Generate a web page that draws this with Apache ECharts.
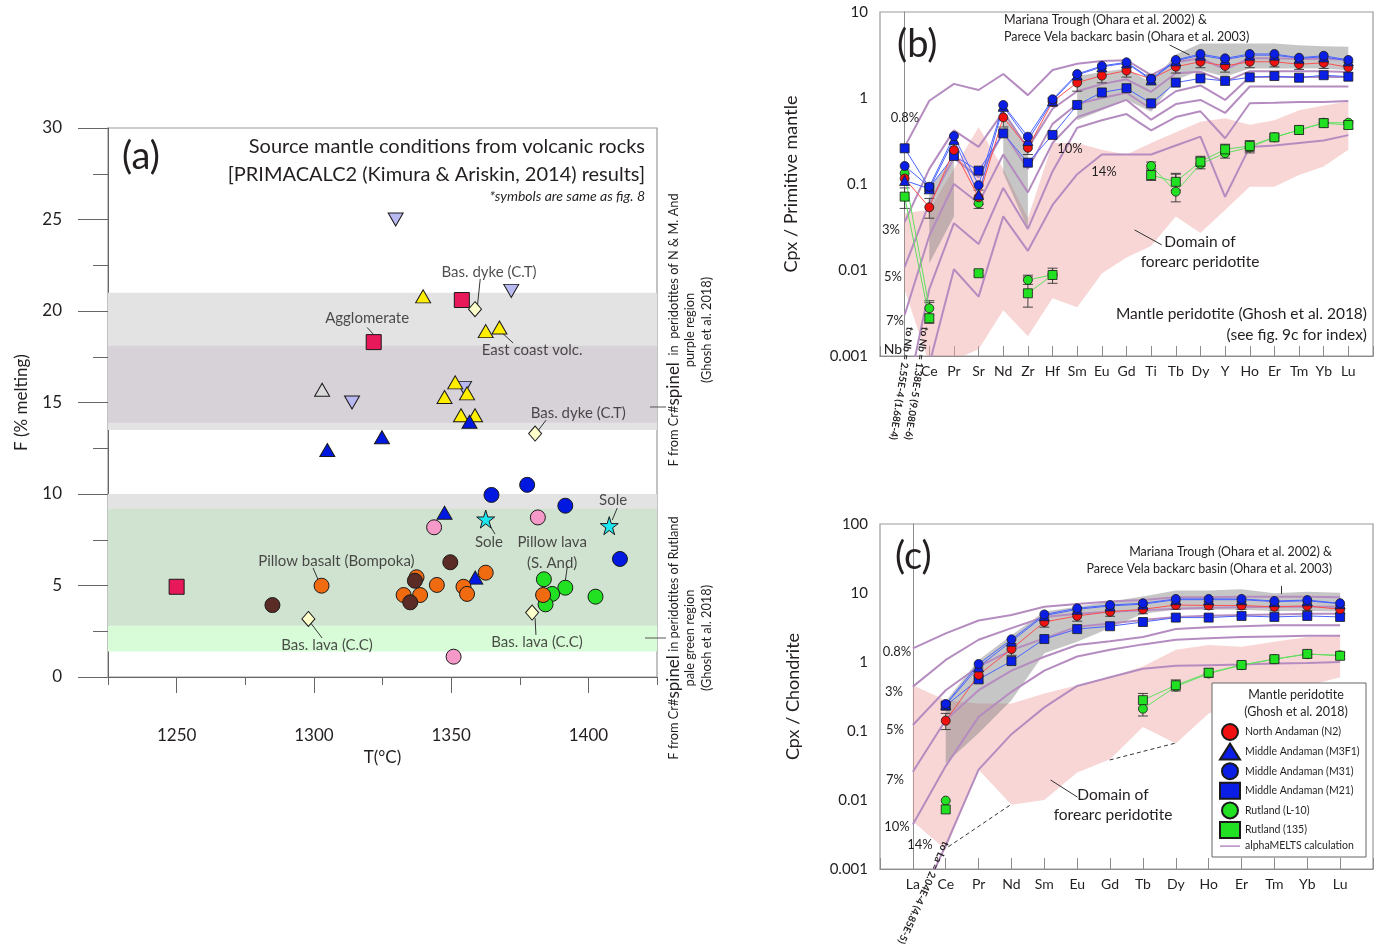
<!DOCTYPE html>
<html>
<head>
<meta charset="utf-8">
<script src="https://cdn.jsdelivr.net/npm/echarts@6/dist/echarts.min.js"></script>
<style>
	html, body { margin: 0; background: #fff; }
	#chart { width: 1380px; height: 945px; }
</style>
</head>
<body>
<div id="chart"></div>
<script>
var FONT = 'Lato, "Noto Sans", sans-serif';
var INK = '#231f20';

// ---------- (a) source mantle conditions ----------
var aXMajor = [1250, 1300, 1350, 1400];
var aBandRange = [[13.5, 21], [13.9, 18.1], [2.8, 10], [2.8, 9.2], [1.4, 2.8]];
var aYellowTri = [[1339.8, 20.8], [1362.6, 18.9], [1367.6, 19.1], [1351.5, 16.1], [1355.8, 15.5], [1347.6, 15.3], [1353.6, 14.3], [1358.7, 14.3]];
var aLavenderTri = [[1329.8, 25.0], [1371.9, 21.1], [1313.9, 15.0], [1354.7, 15.8]];
var aGrayTri = [[1303, 15.7]];
var aCrimsonSq = [[1353.9, 20.6], [1321.8, 18.3], [1250, 4.93]];
var aCreamDia = [[1358.7, 20.1], [1380.6, 13.3], [1298, 3.17], [1379.5, 3.52]];
var aBlueTri = [[1356.7, 13.95], [1324.8, 13.1], [1304.9, 12.4], [1347.6, 8.98], [1358.8, 5.43]];
var aBlueCirc = [[1377.7, 10.5], [1364.7, 9.95], [1391.6, 9.36], [1411.5, 6.45]];
var aCyanStar = [[1362.6, 8.63], [1407.6, 8.27]];
var aPinkCirc = [[1381.6, 8.72], [1343.8, 8.18], [1350.9, 1.11]];
var aGreenCirc = [[1383.8, 5.34], [1391.6, 4.88], [1386.8, 4.54], [1384.4, 3.97], [1402.6, 4.39]];
var aOrangeCirc = [[1362.6, 5.7], [1337.4, 5.45], [1344.8, 5.03], [1354.5, 4.93], [1355.8, 4.54], [1383.5, 4.48], [1302.8, 4.99], [1332.7, 4.48], [1338.7, 4.48]];
var aBrownCirc = [[1349.7, 6.27], [1336.8, 5.26], [1284.9, 3.93], [1335.1, 4.08]];
var aNotes = [
	['Bas. dyke (C.T)', 1363.8, 22.1], ['Agglomerate', 1319.4, 19.6], ['East coast volc.', 1379.5, 17.87],
	['Bas. dyke (C.T)', 1396.3, 14.43], ['Sole', 1409, 9.67], ['Sole', 1363.8, 7.38],
	['Pillow lava\n(S. And)', 1386.8, 6.8], ['Pillow basalt (Bompoka)', 1308.2, 6.34],
	['Bas. lava (C.C)', 1304.8, 1.75], ['Bas. lava (C.C)', 1381.3, 1.91]
];
var aLeaders = [
	[[1360.6, 21.75], [1359.5, 20.16]], [[1319.4, 19.1], [1321.6, 18.74]], [[1372.6, 18.25], [1368.6, 18.8]],
	[[1384.6, 14.04], [1381.3, 13.39]], [[1410.5, 9.23], [1408.7, 8.58]], [[1366, 7.81], [1363.5, 8.42]],
	[[1392.3, 6.01], [1391.5, 5.14]], [[1299.7, 5.96], [1301.9, 5.19]], [[1303, 2.13], [1298.6, 3.0]],
	[[1380.9, 2.3], [1380.6, 3.22]]
];

// ---------- (b) Cpx / primitive mantle ----------
var elemB = ['Nb', 'Ce', 'Pr', 'Sr', 'Nd', 'Zr', 'Hf', 'Sm', 'Eu', 'Gd', 'Ti', 'Tb', 'Dy', 'Y', 'Ho', 'Er', 'Tm', 'Yb', 'Lu'];
var bN2 = [0.116, 0.0536, 0.248, 0.07, 0.595, 0.264, 0.905, 1.51, 1.82, 2.08, 1.67, 2.31, 2.64, 2.36, 2.64, 2.64, 2.47, 2.56, 2.27];
var bM3F1 = [0.11, 0.088, 0.33, 0.075, 0.8, 0.32, 0.93, 1.85, 2.3, 2.55, 1.62, 2.7, 3.15, 2.8, 3.15, 3.15, 2.9, 3.0, 2.7];
var bM31 = [0.162, 0.093, 0.361, 0.097, 0.83, 0.355, 0.966, 1.9, 2.36, 2.6, 1.67, 2.77, 3.25, 2.89, 3.25, 3.25, 2.94, 3.1, 2.77];
var bM21 = [0.26, 0.0906, 0.212, 0.143, 0.388, 0.177, 0.372, 0.83, 1.16, 1.3, 0.867, 1.51, 1.69, 1.58, 1.74, 1.8, 1.72, 1.84, 1.77];
var bL10 = [0.133, 0.00359, null, 0.0596, null, 0.00766, 0.0088, null, null, null, 0.162, 0.0815, 0.171, 0.228, 0.267, 0.349, 0.425, 0.516, 0.516];
var b135 = [0.0713, 0.00275, null, 0.00917, null, 0.00536, 0.00875, null, null, null, 0.127, 0.106, 0.182, 0.253, 0.277, 0.349, 0.425, 0.51, 0.485];
// error bars [low, high]
var bN2Err = [null, [0.04, 0.068], [0.2, 0.3], [0.058, 0.085], [0.46, 0.72], [0.22, 0.31], [0.8, 1.0], [1.2, 1.85], [1.5, 2.2], [1.75, 2.45], [1.5, 1.85], [1.95, 2.7], [2.25, 3.05], [2.0, 2.75], [2.25, 3.05], [2.3, 3.0], [2.15, 2.8], [2.2, 2.9], [1.95, 2.6]];
var b135Err = [[0.052, 0.09], [0.0024, 0.0042], null, [0.0085, 0.0099], null, [0.0037, 0.0083], [0.007, 0.0105], null, null, null, [0.11, 0.15], [0.085, 0.13], [0.16, 0.21], [0.22, 0.29], [0.24, 0.32], [0.32, 0.38], [0.38, 0.47], [0.46, 0.57], [0.44, 0.54]];
var bL10Err = [null, [0.003, 0.0044], null, [0.052, 0.068], null, [0.0068, 0.0087], null, null, null, null, [0.145, 0.18], [0.062, 0.133], [0.15, 0.2], [0.2, 0.26], [0.23, 0.3], null, null, null, null];
var bMelts = [
	[0.27, 0.93, 1.46, 1.24, 1.9, 1.08, 2.12, 2.5, 2.7, 2.75, 1.85, 2.6, 2.9, 2.15, 2.9, 2.9, 2.85, 2.85, 2.8],
	[0.036, 0.15, 0.42, 0.27, 0.69, 0.26, 0.75, 1.2, 1.45, 1.65, 1.18, 1.94, 2.02, 1.55, 2.05, 2.05, 2.05, 2.05, 2.0],
	[0.0108, 0.06, 0.2, 0.12, 0.4, 0.15, 0.5, 0.85, 1.0, 1.15, 0.75, 1.2, 1.4, 0.95, 1.75, 1.75, 1.75, 1.75, 1.75],
	[0.003, 0.025, 0.1, 0.06, 0.22, 0.08, 0.3, 0.6, 0.75, 0.95, 0.56, 0.85, 0.95, 0.67, 1.36, 1.36, 1.36, 1.36, 1.36],
	[0.000255, 0.006, 0.035, 0.02, 0.09, 0.03, 0.14, 0.45, 0.55, 0.65, 0.42, 0.6, 0.7, 0.34, 0.87, 0.88, 0.9, 0.9, 0.92],
	[0.0000138, 0.0008, 0.0102, 0.0049, 0.042, 0.0167, 0.057, 0.13, 0.22, 0.22, 0.22, 0.28, 0.355, 0.071, 0.27, 0.28, 0.3, 0.32, 0.37]
];
var bForeUp = [0.046, 0.05, 0.15, 0.46, 0.15, 0.04, 0.3, 0.3, 0.25, 0.22, 0.3, 0.4, 0.53, 0.58, 0.49, 0.55, 0.72, 0.82, 0.91];
var bForeLo = [0.0059, 0.0008, 0.0009, 0.0012, 0.0034, 0.0017, 0.0047, 0.0037, 0.0091, 0.014, 0.019, 0.042, 0.027, 0.05, 0.093, 0.093, 0.127, 0.16, 0.25];
var bGrayUp = [null, 0.09, 0.207, null, 0.73, 0.27, null, 1.8, 2.0, 2.2, 1.5, 3.2, 4.3, 4.3, 4.3, 4.3, 4.1, 4.0, 3.95];
var bGrayLo = [null, 0.012, 0.042, null, 0.134, 0.03, null, 0.55, 0.72, 0.95, 0.69, 1.62, 2.1, 1.77, 2.2, 2.2, 2.2, 2.2, 2.1];
var bLeaders = [[[10.75, 4.13], [11.56, 3.16]], [[9.33, 0.0292], [10.43, 0.0196]]];

// ---------- (c) Cpx / chondrite ----------
var elemC = ['La', 'Ce', 'Pr', 'Nd', 'Sm', 'Eu', 'Gd', 'Tb', 'Dy', 'Ho', 'Er', 'Tm', 'Yb', 'Lu'];
var cN2 = [null, 0.141, 0.65, 1.54, 3.8, 4.65, 5.35, 5.8, 6.7, 6.6, 6.6, 6.3, 6.5, 5.8];
var cM3F1 = [null, 0.24, 0.85, 2.0, 4.7, 5.8, 6.5, 6.9, 8.0, 8.0, 8.0, 7.5, 7.7, 7.0];
var cM31 = [null, 0.246, 0.935, 2.13, 4.9, 6.0, 6.7, 7.1, 8.2, 8.2, 8.2, 7.65, 7.9, 7.1];
var cM21 = [null, 0.233, 0.56, 1.03, 2.15, 3.0, 3.3, 3.8, 4.4, 4.4, 4.65, 4.5, 4.65, 4.5];
var cL10 = [null, 0.0098, null, null, null, null, null, 0.21, 0.44, 0.68, 0.9, 1.1, 1.3, 1.25];
var c135 = [null, 0.0073, null, null, null, null, null, 0.28, 0.46, 0.7, 0.905, 1.1, 1.31, 1.23];
var cN2Err = [null, [0.105, 0.18], [0.5, 0.82], [1.25, 1.85], [3.2, 4.4], [3.9, 5.5], [4.6, 6.1], [5.0, 6.7], [5.8, 7.6], [5.8, 7.5], [5.8, 7.5], [5.5, 7.2], [5.6, 7.4], [5.0, 6.6]];
var c135Err = [null, null, null, null, null, null, null, [0.165, 0.35], [0.38, 0.55], [0.6, 0.8], [0.82, 1.0], [0.98, 1.22], [1.15, 1.45], [1.1, 1.38]];
var cMelts = [
	[1.58, 2.6, 4.0, 4.8, 6.3, 6.9, 7.5, 7.9, 8.7, 8.7, 8.8, 8.8, 8.8, 8.7],
	[0.44, 1.07, 2.1, 3.1, 4.5, 5.0, 5.35, 5.6, 5.9, 6.1, 6.2, 6.3, 6.3, 6.3],
	[0.122, 0.39, 0.86, 1.49, 2.2, 3.25, 3.6, 4.06, 4.5, 4.7, 4.8, 4.9, 5.0, 5.0],
	[0.0257, 0.144, 0.39, 0.75, 1.19, 1.76, 2.0, 2.3, 3.0, 3.2, 3.3, 3.4, 3.4, 3.4],
	[0.0044, 0.031, 0.16, 0.37, 0.75, 1.2, 1.5, 1.8, 2.1, 2.2, 2.3, 2.35, 2.4, 2.4],
	[0.000204, 0.0022, 0.0275, 0.09, 0.22, 0.45, 0.6, 0.8, 0.88, 0.9, 0.92, 0.95, 0.97, 1.0]
];
var cForeUp = [0.46, 0.28, 0.25, 0.25, 0.35, 0.46, 0.61, 0.86, 1.5, 1.76, 1.66, 1.97, 2.3, 2.4];
var cForeLo = [0.0049, 0.0019, 0.0275, 0.0085, 0.01, 0.025, 0.039, 0.114, 0.066, 0.18, 0.25, 0.35, 0.45, 0.6];
var cGrayUp = [null, 0.27, 1.07, 2.45, 5.4, 6.3, 7.5, 8.9, 10.9, 10.9, 11.3, 9.9, 10.4, 10.1];
var cGrayLo = [null, 0.034, 0.093, 0.28, 1.34, 1.97, 3.1, 5.0, 5.7, 5.7, 5.7, 5.5, 5.5, 5.4];
var cLeaders = [[[11.2, 12.6], [11.2, 9.7]], [[4.19, 0.0195], [5.01, 0.011]]];
var cDashed = [[[1.08, 0.0021], [2.97, 0.0085]], [[5.99, 0.038], [8.0, 0.067]]];

// ---------- helpers ----------
function seq(vals) {
	return vals.map(function(v, i) { return [i, v == null ? '-' : v]; });
}

function elemFmt(list, skip) {
	return function(v) {
		var i = Math.round(v);
		return (Math.abs(i - v) < 1e-6 && i >= 0 && i < list.length && i !== skip) ? list[i] : '';
	};
}

function polySeries(ai, upper, lower, color, z) {
	var runs = [], cur = null;
	upper.forEach(function(v, i) {
		if (v != null && lower[i] != null) {
			if (!cur) { cur = []; runs.push(cur); }
			cur.push(i);
		} else {
			cur = null;
		}
	});
	var polys = runs.map(function(run) {
		return run.map(function(i) { return [i, upper[i]]; })
			.concat(run.slice().reverse().map(function(i) { return [i, lower[i]]; }));
	});
	var data = [];
	polys.forEach(function(p) { p.forEach(function(pt) { data.push(pt); }); });
	return {
		type: 'custom', xAxisIndex: ai, yAxisIndex: ai, clip: true, silent: true, z: z, data: data,
		renderItem: function(params, api) {
			if (params.dataIndex !== 0) return null;
			return {
				type: 'group',
				children: polys.map(function(p) {
					return { type: 'polygon', shape: { points: p.map(function(pt) { return api.coord(pt); }) }, style: { fill: color } };
				})
			};
		}
	};
}

// vertical error bars with caps
function errSeries(ai, errs) {
	var data = [];
	errs.forEach(function(e, i) { if (e) data.push([i, e[0], e[1]]); });
	return {
		type: 'custom', xAxisIndex: ai, yAxisIndex: ai, clip: true, silent: true, z: 5, data: data,
		encode: { x: 0, y: [1, 2] },
		renderItem: function(params, api) {
			var lo = api.coord([api.value(0), api.value(1)]);
			var hi = api.coord([api.value(0), api.value(2)]);
			var st = { stroke: '#333', lineWidth: 0.9 };
			return {
				type: 'group',
				children: [
					{ type: 'line', shape: { x1: lo[0], y1: lo[1], x2: hi[0], y2: hi[1] }, style: st },
					{ type: 'line', shape: { x1: lo[0] - 5, y1: lo[1], x2: lo[0] + 5, y2: lo[1] }, style: st },
					{ type: 'line', shape: { x1: hi[0] - 5, y1: hi[1], x2: hi[0] + 5, y2: hi[1] }, style: st }
				]
			};
		}
	};
}

function sample(ai, name, vals, symbol, fill, lineColor, rotate) {
	return {
		type: 'line', name: name, xAxisIndex: ai, yAxisIndex: ai, data: seq(vals), z: 6,
		symbol: symbol, symbolSize: symbol === 'triangle' ? 10 : 9, symbolRotate: rotate || 0,
		showAllSymbol: true, clip: true,
		itemStyle: { color: fill, borderColor: '#1a1a1a', borderWidth: 0.8 },
		lineStyle: { color: lineColor, width: 1 }
	};
}

function melts(ai, vals) {
	return {
		type: 'line', name: 'alphaMELTS calculation', xAxisIndex: ai, yAxisIndex: ai, data: seq(vals),
		symbol: 'none', z: 3, clip: true, silent: true,
		itemStyle: { color: '#b58cc0' },
		lineStyle: { color: '#b58cc0', width: 2 }
	};
}

function leaderSeries(ai, pairs, dashed) {
	return {
		type: 'line', xAxisIndex: ai, yAxisIndex: ai, data: [], z: 4, silent: true,
		markLine: {
			silent: true, symbol: ['none', 'none'], label: { show: false }, animation: false,
			lineStyle: { color: '#333', width: 1, type: dashed ? [4, 3] : 'solid' },
			data: pairs.map(function(p) { return [{ coord: p[0] }, { coord: p[1] }]; })
		}
	};
}

function aPoints(data, symbol, size, fill, rotate) {
	return {
		type: 'scatter', xAxisIndex: 0, yAxisIndex: 0, data: data, z: 5,
		symbol: symbol, symbolSize: size, symbolRotate: rotate || 0,
		itemStyle: { color: fill, borderColor: '#1a1a1a', borderWidth: 1, opacity: 1 }
	};
}

function txt(x, y, text, size, extra) {
	var st = { text: text, fontSize: size, fontFamily: FONT, fill: INK, align: 'center', verticalAlign: 'middle' };
	for (var k in extra) st[k] = extra[k];
	return { type: 'text', x: x, y: y, z: 61, silent: true, style: st };
}

var STAR = 'path://M50,0 L61,35 L98,35 L68,57 L79,91 L50,70 L21,91 L32,57 L2,35 L39,35 Z';
var axisGray = '#8c8c8c';

// ---------- series ----------
var series = [];

series.push({
	type: 'line', xAxisIndex: 0, yAxisIndex: 0, data: [], z: 1, silent: true,
	markArea: {
		silent: true,
		data: aBandRange.map(function(r, k) {
			var cols = ['#e3e3e3', '#d7d2d8', '#e3e3e3', '#d0e3d0', '#d8fcd8'];
			return [{ yAxis: r[0], itemStyle: { color: cols[k] } }, { yAxis: r[1] }];
		})
	}
});
series.push(aPoints(aGrayTri, 'triangle', [15, 13], '#d9d9d9'));
series.push(aPoints(aLavenderTri, 'triangle', [15, 13], '#b9b9f2', 180));
series.push(aPoints(aYellowTri, 'triangle', [15, 13], '#ffee00'));
series.push(aPoints(aCrimsonSq, 'rect', 15, '#e8195a'));
series.push(aPoints(aCreamDia, 'diamond', [13, 15], '#ffffcc'));
series.push(aPoints(aBlueTri, 'triangle', [15, 13], '#0018e0'));
series.push(aPoints(aBlueCirc, 'circle', 15, '#0018e0'));
series.push(aPoints(aCyanStar, STAR, 18, '#1ee6ee'));
series.push(aPoints(aPinkCirc, 'circle', 15, '#f59ac8'));
series.push(aPoints(aGreenCirc, 'circle', 15, '#22e022'));
series.push(aPoints(aOrangeCirc, 'circle', 15, '#f06a10'));
series.push(aPoints(aBrownCirc, 'circle', 15, '#5b2c25'));
series.push({
	type: 'scatter', xAxisIndex: 0, yAxisIndex: 0, z: 6, silent: true,
	symbol: 'circle', symbolSize: 1, itemStyle: { color: 'rgba(0,0,0,0)' },
	data: aNotes.map(function(n) {
		return { value: [n[1], n[2]], label: { show: true, position: 'inside', formatter: n[0], fontSize: 15, lineHeight: 21, fontFamily: FONT, color: INK } };
	}),
	markLine: {
		silent: true, symbol: ['none', 'none'], label: { show: false },
		lineStyle: { color: '#333', width: 1, type: 'solid' },
		data: aLeaders.map(function(p) { return [{ coord: p[0] }, { coord: p[1] }]; })
	}
});

// (b)
series.push(polySeries(1, bForeUp, bForeLo, 'rgba(240,165,165,0.45)', 1));
series.push(polySeries(1, bGrayUp, bGrayLo, 'rgba(120,120,120,0.42)', 2));
bMelts.forEach(function(v) { series.push(melts(1, v)); });
series.push(leaderSeries(1, bLeaders, false));
series.push(errSeries(1, bN2Err));
series.push(errSeries(1, b135Err));
series.push(errSeries(1, bL10Err));
series.push(sample(1, 'Rutland (L-10)', bL10, 'circle', '#22e022', '#5fe05f'));
series.push(sample(1, 'Rutland (135)', b135, 'rect', '#22e022', '#5fe05f'));
series.push(sample(1, 'Middle Andaman (M21)', bM21, 'rect', '#0a1ee6', '#4a64ff'));
series.push(sample(1, 'North Andaman (N2)', bN2, 'circle', '#f01010', '#ff5050'));
series.push(sample(1, 'Middle Andaman (M3F1)', bM3F1, 'triangle', '#0a1ee6', '#4a64ff'));
series.push(sample(1, 'Middle Andaman (M31)', bM31, 'circle', '#0a1ee6', '#4a64ff'));

// (c)
series.push(polySeries(2, cForeUp, cForeLo, 'rgba(240,165,165,0.45)', 1));
series.push(polySeries(2, cGrayUp, cGrayLo, 'rgba(120,120,120,0.42)', 2));
cMelts.forEach(function(v) { series.push(melts(2, v)); });
series.push(leaderSeries(2, cLeaders, false));
series.push(leaderSeries(2, cDashed, true));
series.push(errSeries(2, cN2Err));
series.push(errSeries(2, c135Err));
series.push(sample(2, 'Rutland (L-10)', cL10, 'circle', '#22e022', '#5fe05f'));
series.push(sample(2, 'Rutland (135)', c135, 'rect', '#22e022', '#5fe05f'));
series.push(sample(2, 'Middle Andaman (M21)', cM21, 'rect', '#0a1ee6', '#4a64ff'));
series.push(sample(2, 'North Andaman (N2)', cN2, 'circle', '#f01010', '#ff5050'));
series.push(sample(2, 'Middle Andaman (M3F1)', cM3F1, 'triangle', '#0a1ee6', '#4a64ff'));
series.push(sample(2, 'Middle Andaman (M31)', cM31, 'circle', '#0a1ee6', '#4a64ff'));

// ---------- axes ----------
var lblA = { fontSize: 17, color: INK, fontFamily: FONT };
var logLabel = function(v) { return String(+Number(v).toPrecision(3)); };

var xAxis = [
	{ gridIndex: 0, type: 'value', min: 1225, max: 1425, interval: 25, position: 'bottom', splitLine: { show: false },
		axisLine: { lineStyle: { color: '#666' } }, axisTick: { length: 8, lineStyle: { color: '#666' } }, axisLabel: { show: false } },
	{ gridIndex: 1, type: 'value', min: -1, max: 19, interval: 1, splitLine: { show: false },
		axisLine: { lineStyle: { color: axisGray } }, axisTick: { inside: true, length: 10, lineStyle: { color: axisGray } },
		axisLabel: { fontSize: 14, margin: 8, color: INK, fontFamily: FONT, formatter: elemFmt(elemB, 0) } },
	{ gridIndex: 2, type: 'value', min: -1, max: 14, interval: 1, splitLine: { show: false },
		axisLine: { lineStyle: { color: axisGray } }, axisTick: { inside: true, length: 11, lineStyle: { color: axisGray } },
		axisLabel: { fontSize: 14, margin: 8, color: INK, fontFamily: FONT, formatter: elemFmt(elemC, -1) } },
	{ gridIndex: 0, type: 'value', min: 1225, max: 1425, position: 'bottom', splitLine: { show: false },
		axisLine: { show: false }, axisTick: { customValues: aXMajor, length: 16, lineStyle: { color: '#666' } },
		axisLabel: { customValues: aXMajor, margin: 50, fontSize: 17, color: INK, fontFamily: FONT,
			formatter: function(v) { return String(v); } },
		name: 'T(°C)', nameLocation: 'middle', nameGap: 72, nameTextStyle: lblA }
];

var yAxis = [
	{ gridIndex: 0, type: 'value', min: 0, max: 30, interval: 2.5, position: 'left', splitLine: { show: false },
		axisLine: { lineStyle: { color: '#666' } }, axisTick: { length: 15, lineStyle: { color: '#666' } }, axisLabel: { show: false } },
	{ gridIndex: 1, type: 'log', logBase: 10, min: 0.001, max: 10, splitLine: { show: false },
		axisLine: { lineStyle: { color: axisGray } }, axisTick: { show: false },
		axisLabel: { fontSize: 15, margin: 12, color: INK, fontFamily: FONT, formatter: logLabel },
		name: 'Cpx / Primitive mantle', nameLocation: 'middle', nameGap: 80, nameRotate: 90,
		nameTextStyle: { fontSize: 18, color: INK, fontFamily: FONT } },
	{ gridIndex: 2, type: 'log', logBase: 10, min: 0.001, max: 100, splitLine: { show: false },
		axisLine: { lineStyle: { color: axisGray } }, axisTick: { show: false },
		axisLabel: { fontSize: 15, margin: 12, color: INK, fontFamily: FONT, formatter: logLabel },
		name: 'Cpx / Chondrite', nameLocation: 'middle', nameGap: 78, nameRotate: 90,
		nameTextStyle: { fontSize: 18, color: INK, fontFamily: FONT } },
	{ gridIndex: 0, type: 'value', min: 0, max: 30, interval: 5, position: 'left', splitLine: { show: false },
		axisLine: { show: false }, axisTick: { length: 30, lineStyle: { color: '#666' } },
		axisLabel: { margin: 46, fontSize: 17, color: INK, fontFamily: FONT },
		name: 'F (% melting)', nameLocation: 'middle', nameGap: 78, nameRotate: 90, nameTextStyle: lblA }
];

// ---------- texts ----------
var graphic = [
	txt(122, 157, '(a)', 38, { align: 'left' }),
	txt(645, 147, 'Source mantle conditions from volcanic rocks', 20, { align: 'right' }),
	txt(645, 175, '[PRIMACALC2 (Kimura & Ariskin, 2014) results]', 20, { align: 'right' }),
	txt(645, 196, '*symbols are same as fig. 8', 14, { align: 'right', fontStyle: 'italic' }),
	{ type: 'text', x: 690, y: 330, rotation: Math.PI / 2, z: 61, silent: true,
		style: { text: 'F from Cr#{s|spinel}  in  peridotites of N & M. And\npurple region\n(Ghosh et al. 2018)',
			fontSize: 12.8, lineHeight: 16.5, fontFamily: FONT, fill: INK, align: 'center', verticalAlign: 'middle',
			rich: { s: { fontSize: 17, lineHeight: 16.5, fontFamily: FONT, fill: INK } } } },
	{ type: 'text', x: 690, y: 638, rotation: Math.PI / 2, z: 61, silent: true,
		style: { text: 'F from Cr#{s|spinel} in peridotites of Rutland\npale green region\n(Ghosh et al. 2018)',
			fontSize: 12.8, lineHeight: 16.5, fontFamily: FONT, fill: INK, align: 'center', verticalAlign: 'middle',
			rich: { s: { fontSize: 17, lineHeight: 16.5, fontFamily: FONT, fill: INK } } } },
	{ type: 'line', z: 61, silent: true, shape: { x1: 650, y1: 407, x2: 666, y2: 407 }, style: { stroke: '#555', lineWidth: 1 } },
	{ type: 'line', z: 61, silent: true, shape: { x1: 645, y1: 638, x2: 666, y2: 638 }, style: { stroke: '#555', lineWidth: 1 } },

	txt(897, 45, '(b)', 38, { align: 'left' }),
	txt(1004, 20, 'Mariana Trough (Ohara et al. 2002) &', 12.5, { align: 'left' }),
	txt(1004, 37, 'Parece Vela backarc basin (Ohara et al. 2003)', 12.5, { align: 'left' }),
	txt(1200, 242, 'Domain of', 15.5),
	txt(1200, 262, 'forearc peridotite', 15.5),
	txt(1367, 314, 'Mantle peridotite (Ghosh et al. 2018)', 15.5, { align: 'right' }),
	txt(1367, 335, '(see fig. 9c for index)', 15.5, { align: 'right' }),
	txt(893, 349, 'Nb', 14),
	txt(905, 118, '0.8%', 13), txt(891, 230, '3%', 13), txt(893, 277, '5%', 13), txt(895, 321, '7%', 13),
	txt(1070, 149, '10%', 13), txt(1104, 172, '14%', 13),
	{ type: 'text', x: 910, y: 327, rotation: -1.72, z: 61, silent: true,
		style: { text: 'to Nb = 2.55E-4 (1.68E-4)', fontSize: 10, fontWeight: 'bold', fontFamily: FONT, fill: INK, align: 'left', verticalAlign: 'middle' } },
	{ type: 'text', x: 925, y: 327, rotation: -1.72, z: 61, silent: true,
		style: { text: 'to Nb = 1.38E-5 (9.08E-6)', fontSize: 10, fontWeight: 'bold', fontFamily: FONT, fill: INK, align: 'left', verticalAlign: 'middle' } },

	txt(895, 557, '(c)', 38, { align: 'left' }),
	txt(1332, 552, 'Mariana Trough (Ohara et al. 2002) &', 12.5, { align: 'right' }),
	txt(1332, 569, 'Parece Vela backarc basin (Ohara et al. 2003)', 12.5, { align: 'right' }),
	txt(1113, 795, 'Domain of', 15.5),
	txt(1113, 815, 'forearc peridotite', 15.5),
	txt(897, 652, '0.8%', 13), txt(894, 692, '3%', 13), txt(895, 730, '5%', 13), txt(895, 780, '7%', 13),
	txt(897, 827, '10%', 13), txt(920, 845, '14%', 13),
	{ type: 'text', x: 946, y: 842, rotation: -1.99, z: 61, silent: true,
		style: { text: 'to La = 2.04E-4 (4.85E-5)', fontSize: 10, fontWeight: 'bold', fontFamily: FONT, fill: INK, align: 'left', verticalAlign: 'middle' } },

	{ type: 'rect', z: 50, silent: true, shape: { x: 1212, y: 683, width: 154, height: 174 }, style: { fill: '#fff', stroke: '#666', lineWidth: 1 } },
	txt(1296, 695, 'Mantle peridotite', 12.5),
	txt(1296, 712, '(Ghosh et al. 2018)', 12.5)
];

var chart = echarts.init(document.getElementById('chart'));
chart.setOption({
	animation: false,
	backgroundColor: '#fff',
	textStyle: { fontFamily: FONT },
	grid: [
		{ left: 108, top: 128, width: 549, height: 549, show: true, borderColor: '#9a9a9a', borderWidth: 1.2 },
		{ left: 880, top: 12, width: 493, height: 344, show: true, borderColor: '#9a9a9a', borderWidth: 1.2 },
		{ left: 880, top: 524, width: 493, height: 345, show: true, borderColor: '#9a9a9a', borderWidth: 1.2 }
	],
	xAxis: xAxis,
	yAxis: yAxis,
	legend: {
		orient: 'vertical', left: 1214, top: 718, z: 60, selectedMode: false,
		itemWidth: 20, itemHeight: 16, itemGap: 1.6, symbolKeepAspect: true,
		textStyle: { fontSize: 10.5, color: INK, fontFamily: FONT },
		data: [
			{ name: 'North Andaman (N2)', icon: 'circle' },
			{ name: 'Middle Andaman (M3F1)', icon: 'triangle' },
			{ name: 'Middle Andaman (M31)', icon: 'circle' },
			{ name: 'Middle Andaman (M21)', icon: 'rect' },
			{ name: 'Rutland (L-10)', icon: 'circle' },
			{ name: 'Rutland (135)', icon: 'rect' },
			{ name: 'alphaMELTS calculation', icon: 'path://M0,0 L40,0 L40,3 L0,3 Z' }
		]
	},
	graphic: graphic,
	series: series
});
</script>
</body>
</html>
